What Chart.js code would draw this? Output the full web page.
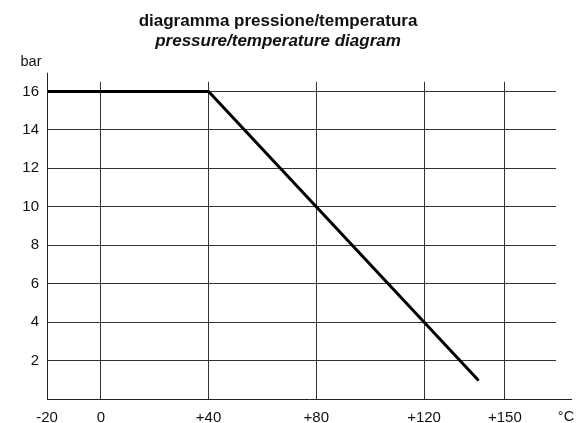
<!DOCTYPE html>
<html>
  <head>
    <meta charset="utf-8">
    <title>diagramma pressione/temperatura</title>
    <script src="https://cdn.jsdelivr.net/npm/chart.js"></script>
    <style>
      body { margin: 0; background: #fff; }
      #wrap { width: 578px; height: 423px; }
    </style>
  </head>
  <body>
    <div id="wrap"><canvas id="ptChart"></canvas></div>
    <script>
      // data
      const temperatures = [-20, 40, 140];
      const pressures = [16, 16, 1];
      const xTickValues = [-20, 0, 40, 80, 120, 150];
      const xTickLabels = ['-20', '0', '+40', '+80', '+120', '+150'];
      const yTickValues = [2, 4, 6, 8, 10, 12, 14, 16];

      const font = "'Liberation Sans', Arial, Helvetica, sans-serif";

      // unit labels + the axis lines that run past the grid
      const unitsPlugin = {
        id: 'units',
        afterDraw: (chart) => {
          const ctx = chart.ctx;
          const a = chart.chartArea;
          ctx.save();
          ctx.strokeStyle = '#222';
          ctx.lineWidth = 1;
          ctx.beginPath();
          ctx.moveTo(a.left + 0.5, a.bottom);
          ctx.lineTo(a.left + 0.5, a.top - 9);
          ctx.moveTo(a.left, a.bottom + 0.5);
          ctx.lineTo(a.right + 16, a.bottom + 0.5);
          ctx.stroke();
          ctx.fillStyle = '#111';
          ctx.font = '14.5px ' + font;
          ctx.textAlign = 'center';
          ctx.textBaseline = 'middle';
          ctx.fillText('bar', 31, 62);
          ctx.fillText('°C', 566, 417);
          ctx.restore();
        }
      };

      new Chart(document.getElementById('ptChart'), {
        type: 'line',
        data: {
          datasets: [{
            data: temperatures.map((t, i) => ({ x: t, y: pressures[i] })),
            borderColor: '#000',
            borderWidth: 3,
            borderCapStyle: 'round',
            pointRadius: 0,
            tension: 0
          }]
        },
        options: {
          responsive: true,
          maintainAspectRatio: false,
          animation: false,
          layout: { padding: { left: 0, right: 22, top: 0, bottom: 0 } },
          plugins: {
            legend: { display: false },
            tooltip: { enabled: false },
            title: {
              display: true,
              text: 'diagramma pressione/temperatura',
              color: '#111',
              font: { family: font, size: 17, weight: 'bold' },
              padding: { top: 11, bottom: 0 }
            },
            subtitle: {
              display: true,
              text: 'pressure/temperature diagram',
              color: '#111',
              font: { family: font, size: 17, weight: 'bold', style: 'italic' },
              padding: { top: 0, bottom: 30 }
            }
          },
          scales: {
            x: {
              type: 'linear',
              min: -20,
              max: 169,
              afterBuildTicks: (s) => { s.ticks = xTickValues.map(v => ({ value: v })); },
              afterFit: (s) => { s.height = 24; },
              grid: { color: '#333', lineWidth: 1, drawTicks: false },
              border: { display: false },
              ticks: {
                color: '#111',
                font: { family: font, size: 15 },
                padding: 10,
                maxRotation: 0,
                autoSkip: false,
                callback: (v) => xTickLabels[xTickValues.indexOf(v)]
              }
            },
            y: {
              min: 0,
              max: 16.5,
              afterBuildTicks: (s) => { s.ticks = yTickValues.map(v => ({ value: v })); },
              afterFit: (s) => { s.width = 47; },
              grid: { color: '#333', lineWidth: 1, drawTicks: false },
              border: { display: false },
              ticks: {
                color: '#111',
                font: { family: font, size: 15 },
                padding: 8
              }
            }
          }
        },
        plugins: [unitsPlugin]
      });
    </script>
  </body>
</html>
